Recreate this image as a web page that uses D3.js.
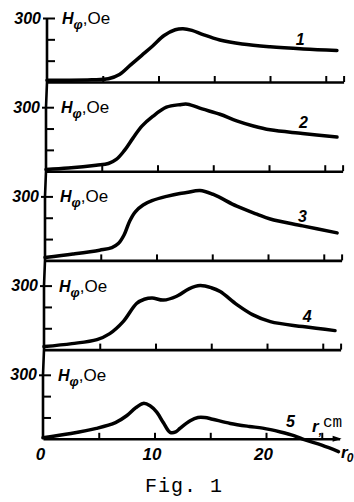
<!DOCTYPE html>
<html>
<head>
<meta charset="utf-8">
<script src="https://cdn.jsdelivr.net/npm/d3@7/dist/d3.min.js"></script>
<style>
  body { margin: 0; background: #fff; }
  svg { display: block; }
  .bi { font-family: "Liberation Sans", Arial, sans-serif; font-weight: bold; font-style: italic; }
  .axis path, .axis line { stroke: #000; }
</style>
</head>
<body>
<div id="chart"></div>
<script>
const r1 = [0, 2, 4, 5.5, 6.5, 7.5, 8.5, 9.5, 10.5, 11.5, 12.2, 13, 14, 15.5, 17.5, 20, 23, 26];
const h1 = [8, 8, 10, 15, 35, 80, 125, 170, 218, 245, 250, 242, 222, 197, 178, 165, 155, 148];

const r2 = [0, 2, 4.5, 5.6, 6.3, 7.0, 7.8, 8.6, 9.6, 10.8, 12, 12.7, 14, 15.6, 17.1, 18.6, 20.1, 23, 26.1];
const h2 = [8, 15, 28, 36, 55, 95, 155, 211, 258, 300, 312, 314, 292, 267, 236, 212, 194, 177, 160];

const r3 = [0, 2.5, 4.9, 6.0, 6.6, 7.1, 7.6, 8.1, 8.8, 9.6, 10.9, 12.1, 12.7, 13.9, 15.1, 17.2, 19, 20.2, 23.1, 26.2];
const h3 = [14, 30, 48, 60, 80, 120, 185, 228, 260, 280, 300, 314, 318, 328, 309, 254, 217, 194, 162, 129];

const r4 = [0, 2.5, 4.75, 5.9, 7.1, 8.3, 9.0, 9.7, 10.7, 11.9, 13, 14, 15, 15.8, 17.3, 18.7, 20.3, 23.2, 26.1];
const h4 = [14, 28, 47, 75, 131, 216, 236, 242, 232, 250, 285, 300, 290, 272, 211, 164, 131, 108, 89];

const r5 = [0, 2.5, 4.8, 6.5, 7.5, 8.3, 9.0, 9.6, 10.2, 10.8, 11.4, 11.9, 12.3, 13.2, 13.9, 14.5, 15.2, 16.8, 18.5, 19.7, 21.3, 22.5, 23.5, 25, 26.5];
const h5 = [5, 25, 49, 76, 108, 145, 166, 155, 125, 75, 30, 32, 50, 85, 100, 100, 92, 72, 58, 50, 32, 15, -5, -30, -60];

const seriesR = [r1, r2, r3, r4, r5];
const seriesH = [h1, h2, h3, h4, h5];
const curveNames = ['1', '2', '3', '4', '5'];
// where the curve numbers sit, in (r, H) units
const nameR = [22.7, 23.1, 23.1, 23.6, 22.2];
const nameH = [173, 203, 180, 129, 55];

const xTicks = [5, 10, 15, 20, 25];
const xTickLabels = [0, 10, 20];
const yTicks = [100, 200, 300];

const width = 354, height = 502;
const panelGap = 89.2;
const firstBase = 82;
const panelH = 64;

const svg = d3.select('#chart')
  .append('svg')
    .attr('width', width)
    .attr('height', height);

const x = d3.scaleLinear().domain([0, 26.6]).range([43, 339.6]);

// the scan is a little skewed: the upper panels sit a few px to the right
const shift = i => 4 - i;
const baseOf = i => firstBase + i * panelGap;
const yOf = i => d3.scaleLinear().domain([0, 300]).range([baseOf(i), baseOf(i) - panelH]);

// continuous vertical axis through all panels
const spine = [];
curveNames.forEach((d, i) => {
  spine.push([x(0) + shift(i), yOf(i)(300)]);
  spine.push([x(0) + shift(i), baseOf(i)]);
});
svg.append('path')
  .attr('d', d3.line()(spine))
  .attr('fill', 'none')
  .attr('stroke', '#000')
  .attr('stroke-width', 2.6);

const line = d3.line().curve(d3.curveCatmullRom.alpha(0.5));

curveNames.forEach((name, i) => {
  const y = yOf(i);
  const g = svg.append('g').attr('transform', `translate(${shift(i)},0)`);

  // x axis with small upward ticks
  const xAxis = g.append('g')
    .attr('class', 'axis')
    .attr('transform', `translate(0,${baseOf(i)})`)
    .call(d3.axisBottom(x).tickValues(xTicks.concat([26.6])).tickSize(-6).tickSizeOuter(0).tickFormat(''));
  xAxis.select('.domain').attr('stroke-width', 2.6);
  xAxis.selectAll('.tick line').attr('stroke-width', 2);
  if (i === 4) {
    xAxis.selectAll('.tick').filter(d => d > 26).remove();
    g.append('path')
      .attr('d', `M${x(26.6) - 7},${baseOf(i) - 3}L${x(26.6) + 2},${baseOf(i)}L${x(26.6) - 7},${baseOf(i) + 3}Z`)
      .attr('fill', '#000');
  }

  // y ticks, inward
  const yAxis = g.append('g')
    .attr('class', 'axis')
    .attr('transform', `translate(${x(0)},0)`)
    .call(d3.axisRight(y).tickValues(yTicks).tickSize(8).tickFormat(''));
  yAxis.select('.domain').remove();
  yAxis.selectAll('.tick line').attr('stroke-width', 2);

  const yLab = g.append('g')
    .attr('class', 'axis')
    .attr('transform', `translate(${x(0)},0)`)
    .call(d3.axisLeft(y).tickValues([300]).tickSize(4).tickPadding(2));
  yLab.select('.domain').remove();
  yLab.selectAll('.tick line').attr('stroke-width', 2);
  yLab.selectAll('text')
    .attr('class', 'bi')
    .attr('font-size', 16)
    .attr('fill', '#000');

  // H_phi, Oe
  const t = g.append('text')
    .attr('x', x(0) + 15)
    .attr('y', y(300) + 6);
  t.append('tspan').attr('class', 'bi').attr('font-size', 16).text('H');
  t.append('tspan').attr('class', 'bi').attr('font-size', 13).attr('dy', 5).text('φ');
  t.append('tspan').attr('font-family', 'Liberation Sans, Arial, sans-serif').attr('font-size', 17).attr('dy', -5).text(',Oe');

  g.append('path')
    .datum(seriesR[i].map((r, k) => [x(r), y(seriesH[i][k])]))
    .attr('d', line)
    .attr('fill', 'none')
    .attr('stroke', '#000')
    .attr('stroke-width', 3.5)
    .attr('stroke-linecap', 'round');

  g.append('text')
    .attr('class', 'bi')
    .attr('font-size', 16)
    .attr('text-anchor', 'middle')
    .attr('x', x(nameR[i]))
    .attr('y', y(nameH[i]))
    .text(name);
});

// bottom panel axis labels
const last = baseOf(4);
const xLab = svg.append('g')
  .attr('class', 'axis')
  .attr('transform', `translate(-3,${last})`)
  .call(d3.axisBottom(x).tickValues(xTickLabels).tickSize(0).tickPadding(9));
xLab.select('.domain').remove();
xLab.selectAll('text')
  .attr('class', 'bi')
  .attr('font-size', 17)
  .attr('fill', '#000');

const rcm = svg.append('text').attr('x', 312).attr('y', 432);
rcm.append('tspan').attr('class', 'bi').attr('font-size', 17).text('r');
rcm.append('tspan').attr('class', 'bi').attr('font-size', 12).attr('dy', 3).text(',');
rcm.append('tspan').attr('font-family', 'Liberation Mono, monospace').attr('font-size', 16).attr('dx', 1).attr('dy', -8).text('cm');

const r0 = svg.append('text').attr('x', 341).attr('y', 458);
r0.append('tspan').attr('class', 'bi').attr('font-size', 17).text('r');
r0.append('tspan').attr('class', 'bi').attr('font-size', 12).attr('dx', -1).attr('dy', 4).text('0');

svg.append('text')
  .attr('x', 184)
  .attr('y', 492)
  .attr('text-anchor', 'middle')
  .attr('font-family', 'Liberation Mono, monospace')
  .attr('font-size', 20)
  .attr('letter-spacing', 1)
  .text('Fig. 1');
</script>
</body>
</html>
